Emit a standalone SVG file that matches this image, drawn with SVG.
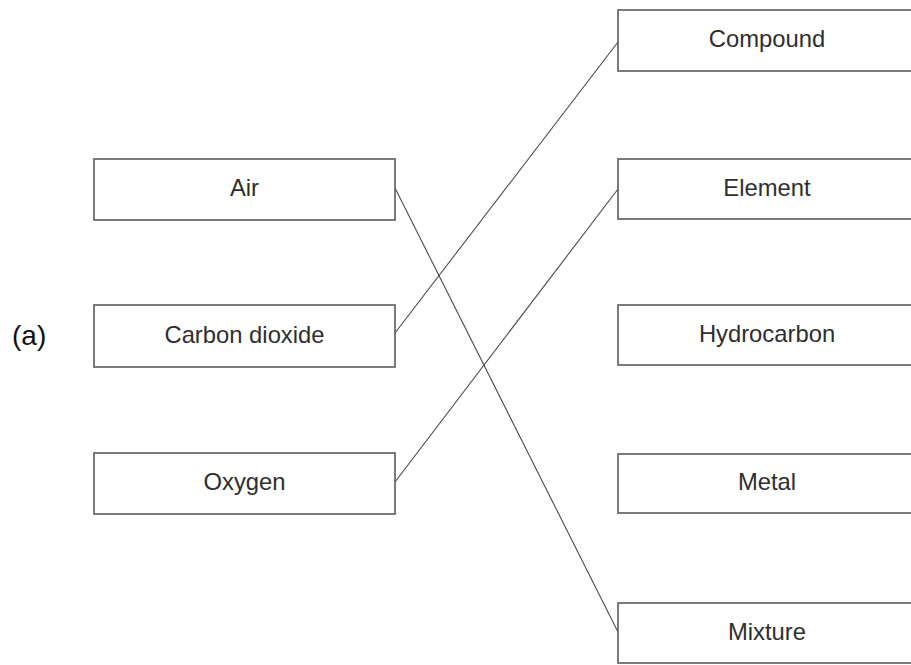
<svg xmlns="http://www.w3.org/2000/svg" width="911" height="665" viewBox="0 0 911 665">
<style>
.box{fill:#fff;stroke:#5a5a5a;stroke-width:1.6}
.lbl{font-family:"Liberation Sans",Arial,sans-serif;font-size:23.8px;fill:#2e2e2e;text-anchor:middle}
.con{stroke:#4a4a4a;stroke-width:1.1;fill:none}
</style>
<rect width="911" height="665" fill="#fff"/>
<text x="12" y="345" font-family="Liberation Sans, Arial, sans-serif" font-size="28" fill="#111">(a)</text>
<g id="connectors">
<line class="con" x1="395" y1="188" x2="618" y2="632"/>
<line class="con" x1="395" y1="333" x2="618" y2="42"/>
<line class="con" x1="395" y1="482" x2="618" y2="189"/>
</g>
<g id="air"><rect class="box" x="94" y="159" width="301" height="61"/><text class="lbl" x="244.5" y="196">Air</text></g>
<g id="carbon-dioxide"><rect class="box" x="94" y="305" width="301" height="62"/><text class="lbl" x="244.5" y="343">Carbon dioxide</text></g>
<g id="oxygen"><rect class="box" x="94" y="453" width="301" height="61"/><text class="lbl" x="244.5" y="490">Oxygen</text></g>
<g id="compound"><rect class="box" x="618" y="10" width="299" height="61"/><text class="lbl" x="767" y="47">Compound</text></g>
<g id="element"><rect class="box" x="618" y="159" width="299" height="60"/><text class="lbl" x="767" y="196">Element</text></g>
<g id="hydrocarbon"><rect class="box" x="618" y="305" width="299" height="60"/><text class="lbl" x="767" y="342">Hydrocarbon</text></g>
<g id="metal"><rect class="box" x="618" y="454" width="299" height="59"/><text class="lbl" x="767" y="490">Metal</text></g>
<g id="mixture"><rect class="box" x="618" y="603" width="299" height="60"/><text class="lbl" x="767" y="640">Mixture</text></g>
</svg>
